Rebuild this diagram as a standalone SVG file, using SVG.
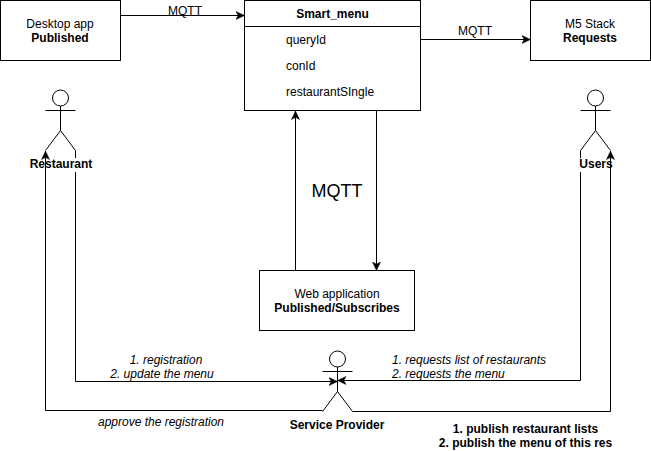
<svg xmlns="http://www.w3.org/2000/svg" width="651" height="451" viewBox="0 0 651 451">
<style>
text{font-family:"Liberation Sans",Arial,Helvetica,sans-serif;font-size:12px;fill:#000}
.b{font-weight:bold}.i{font-style:italic}.m{text-anchor:middle}
.s{fill:#fff;stroke:#000;stroke-width:1}
.l{fill:none;stroke:#000;stroke-width:1}
.lab{fill:#fff;stroke:none}
</style>
<defs>
<marker id="a" markerUnits="userSpaceOnUse" markerWidth="11" markerHeight="11" refX="9" refY="5" orient="auto"><path d="M0.500 1L9 5L0.500 9L2.700 5Z" fill="#000" stroke="#000" stroke-width="0.500"/></marker>
</defs>
<rect width="651" height="451" fill="#fff"/>
<g id="desktop-app"><rect class="s" x="0.500" y="0.500" width="120" height="60"/><text class="m" x="60" y="28">Desktop app</text><text class="m b" x="60" y="42">Published</text></g>
<g id="smart-menu"><rect class="s" x="244.500" y="0.500" width="176" height="110"/><path class="l" d="M244.500 26.500H420.500"/><text class="m b" x="332.500" y="18">Smart_menu</text><text x="286" y="44">queryId</text><text x="286" y="70">conId</text><text x="286" y="96">restaurantSIngle</text></g>
<g id="m5-stack"><rect class="s" x="530.500" y="0.500" width="120" height="60"/><text class="m" x="590" y="28">M5 Stack</text><text class="m b" x="590" y="42">Requests</text></g>
<g id="web-application"><rect class="s" x="259.500" y="270.500" width="155" height="60"/><text class="m" x="337" y="298">Web application</text><text class="m b" x="337" y="312">Published/Subscribes</text></g>
<g id="restaurant"><circle class="s" cx="60.500" cy="98" r="8"/><path class="l" d="M60.500 106V130.500M45.500 110.500H75.500M45.500 150.500L60.500 130.500L75.500 150.500"/></g>
<g id="users"><circle class="s" cx="595.500" cy="98" r="8"/><path class="l" d="M595.500 106V130.500M580.500 110.500H610.500M580.500 150.500L595.500 130.500L610.500 150.500"/></g>
<g id="service-provider"><circle class="s" cx="337.500" cy="359" r="8"/><path class="l" d="M337.500 367V391.500M322.500 371.500H352.500M322.500 411.500L337.500 391.500L352.500 411.500"/></g>
<g id="connectors">
<path class="l" marker-end="url(#a)" d="M120.500 15.500H244.500"/>
<path class="l" marker-end="url(#a)" d="M420.500 39.500H530.500"/>
<path class="l" marker-end="url(#a)" d="M295.500 270.500V111"/>
<path class="l" marker-end="url(#a)" d="M376.500 110.500V270.500"/>
<path class="l" marker-end="url(#a)" d="M75.500 150.500V381.500H337.500"/>
<path class="l" marker-end="url(#a)" d="M580.500 150.500V380.500H337.500"/>
</g>
<g id="actor-label-backs">
<rect class="lab" x="30" y="158" width="62" height="14"/>
<rect class="lab" x="578" y="158" width="36" height="14"/>
</g>
<g id="connectors-over">
<path class="l" marker-end="url(#a)" d="M322.500 410.500H45.500V151"/>
<path class="l" marker-end="url(#a)" d="M352.500 411.500H610.500V151"/>
</g>
<g id="labels">
<text class="m" x="185" y="15">MQTT</text>
<text class="m" x="475" y="35">MQTT</text>
<text class="m" x="337" y="197" style="font-size:18px">MQTT</text>
<text class="m b" x="61" y="168">Restaurant</text>
<text class="m b" x="596" y="168">Users</text>
<text class="m b" x="337" y="429">Service Provider</text>
<text class="m i" x="166" y="364">1. registration</text>
<text class="m i" x="162" y="378">2. update the menu</text>
<text class="i" x="392" y="364">1. requests list of restaurants</text>
<text class="i" x="392" y="378">2. requests the menu</text>
<text class="m i" x="161" y="426">approve the registration</text>
<text class="m b" x="525.500" y="433">1. publish restaurant lists</text>
<text class="m b" x="525.500" y="447">2. publish the menu of this res</text>
</g>
</svg>
